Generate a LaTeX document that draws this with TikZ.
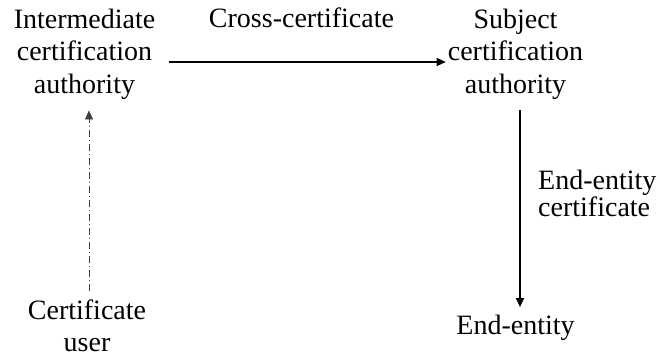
\documentclass[tikz,border=0pt]{standalone}
\usepackage{fontspec}
\setmainfont{Liberation Serif}
\usetikzlibrary{arrows.meta}
\begin{document}
\begin{tikzpicture}[x=1pt,y=1pt,
  txt/.style={font=\fontsize{28}{32.5}\selectfont, inner sep=2pt, align=center},
  lbl/.style={font=\fontsize{28}{27}\selectfont, inner sep=2pt, align=left},
  solidarrow/.style={line width=1.4pt, -{Triangle[length=9pt,width=8pt]}},
  dasharrow/.style={line width=0.6pt, black!75, dash pattern=on 7pt off 3pt on 1pt off 3pt, -{Triangle[length=9pt,width=8pt]}}]
\useasboundingbox (0,0) rectangle (660,360);
\node[txt] (ica) at (84.5,306) {Intermediate\\certification\\authority};
\node[txt] (sca) at (515.5,306) {Subject\\certification\\authority};
\node[txt] (ee) at (515.5,32) {End-entity};
\node[txt] (cu) at (87,34) {Certificate\\user};
\node[txt, anchor=base] (cc) at (301.5,332.5) {Cross-certificate};
\node[lbl, anchor=west] (eec) at (536,167) {End-entity\\certificate};
\draw[solidarrow, shorten <=12pt] ([yshift=-8pt]ica.east) -- ([yshift=-8pt]sca.west);
\draw[solidarrow, shorten <=9pt, shorten >=6pt] ([xshift=4.5pt]sca.south) -- ([xshift=4.5pt]ee.north);
\draw[dasharrow, shorten <=7pt, shorten >=9pt] ([xshift=2pt]cu.north) -- ([xshift=2pt]cu.north |- ica.south);
\end{tikzpicture}
\end{document}
